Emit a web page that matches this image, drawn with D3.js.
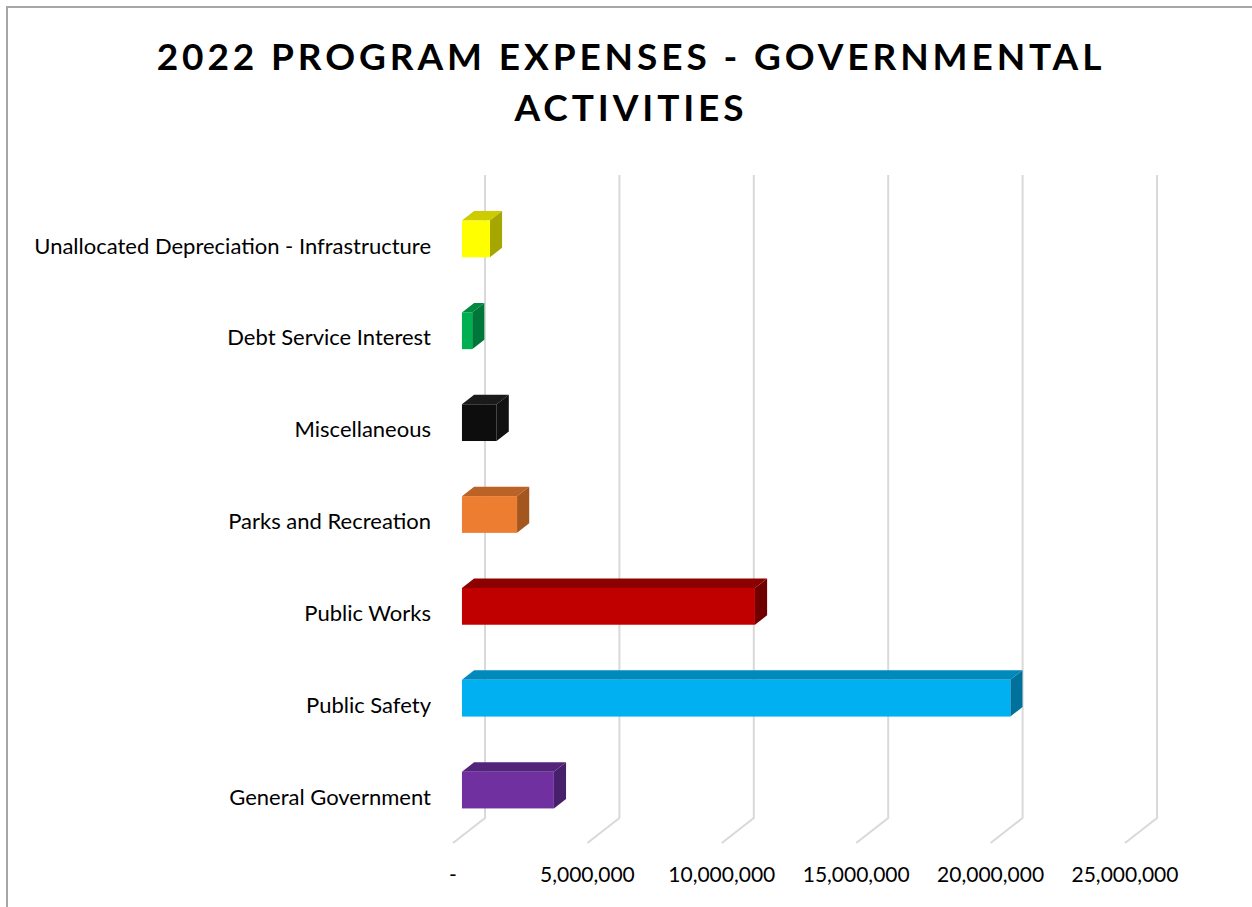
<!DOCTYPE html>
<html>
<head>
<meta charset="utf-8">
<script src="https://cdn.jsdelivr.net/npm/d3@7"></script>
<style>
  body { margin: 0; background: #fff; }
  text { font-family: Lato, "Open Sans", sans-serif; }
</style>
</head>
<body>
<div id="chart"></div>
<script>
// chart data
const categories = [
    "Unallocated Depreciation - Infrastructure",
    "Debt Service Interest",
    "Miscellaneous",
    "Parks and Recreation",
    "Public Works",
    "Public Safety",
    "General Government"
];
const expenses = [1040000, 380000, 1290000, 2050000, 10900000, 20400000, 3420000];
const tickValues = [0, 5000000, 10000000, 15000000, 20000000, 25000000];
const tickLabels = ["-", "5,000,000", "10,000,000", "15,000,000", "20,000,000", "25,000,000"];

// front / top / side colours for each bar
const frontColors = ["#ffff00", "#00b050", "#0d0d0d", "#ed7d31", "#c00000", "#00b0f0", "#7030a0"];
const topColors   = ["#cccc00", "#008a3e", "#1a1a1a", "#bb6226", "#8c0000", "#0089bb", "#53257a"];
const sideColors  = ["#a6a600", "#00773a", "#111111", "#a4561f", "#700000", "#00719b", "#46206a"];

const width = 1252;
const height = 907;

// 3d depth of the plot box
const depth = {dx: 32, dy: -25};
const barZ0 = 0.28, barZ1 = 0.66;

const svg = d3.select("#chart").append("svg")
    .attr("width", width)
    .attr("height", height);

// outer border
svg.append("rect")
    .attr("x", 7).attr("y", 7)
    .attr("width", width).attr("height", height)
    .attr("fill", "none")
    .attr("stroke", "#a6a6a6")
    .attr("stroke-width", 2);

// title
const title = svg.append("text")
    .attr("text-anchor", "middle")
    .attr("font-size", 37)
    .attr("font-weight", "bold")
    .style("letter-spacing", "3.9px")
    .attr("fill", "#000");
title.append("tspan").attr("x", 631).attr("y", 70).text("2022 PROGRAM EXPENSES - GOVERNMENTAL");
title.append("tspan").attr("x", 631).attr("y", 121).text("ACTIVITIES");

// scales (front plane of the box)
const x = d3.scaleLinear()
    .domain([0, 25000000])
    .range([453, 1125]);

const y = d3.scaleBand()
    .domain(categories)
    .range([200, 843])
    .paddingInner(0.6)
    .paddingOuter(0.3);

// projection of a point at depth z (0 front, 1 back)
const px = (xv, z) => xv + depth.dx * z;
const py = (yv, z) => yv + depth.dy * z;

// back wall gridlines + floor diagonals
const grid = svg.append("g");
grid.selectAll("path")
    .data(tickValues)
    .join("path")
        .attr("d", d => {
            const xf = x(d);
            return `M${px(xf, 1)},${py(200, 1)} L${px(xf, 1)},${py(843, 1)} L${xf},843`;
        })
        .attr("fill", "none")
        .attr("stroke", "#d9d9d9")
        .attr("stroke-width", 2);

// tick labels
svg.append("g").selectAll("text")
    .data(tickValues)
    .join("text")
        .attr("x", d => x(d))
        .attr("y", 882)
        .attr("text-anchor", "middle")
        .attr("font-size", 21)
        .attr("fill", "#000")
        .text((d, i) => tickLabels[i]);

// category labels
svg.append("g").selectAll("text")
    .data(categories)
    .join("text")
        .attr("x", 431)
        .attr("y", d => y(d) + y.bandwidth() / 2)
        .attr("dy", "0.35em")
        .attr("text-anchor", "end")
        .attr("font-size", 22)
        .attr("fill", "#000")
        .text(d => d);

// 3d bars
const bars = svg.append("g").selectAll("g")
    .data(categories.map((c, i) => ({cat: c, value: expenses[i], i: i})))
    .join("g");

function facePath(pts) {
    return "M" + pts.map(p => p.join(",")).join("L") + "Z";
}

bars.append("path") // top
    .attr("d", d => {
        const x0 = x(0), x1 = x(d.value), yt = y(d.cat);
        return facePath([
            [px(x0, barZ0), py(yt, barZ0)], [px(x1, barZ0), py(yt, barZ0)],
            [px(x1, barZ1), py(yt, barZ1)], [px(x0, barZ1), py(yt, barZ1)]
        ]);
    })
    .attr("fill", d => topColors[d.i]);

bars.append("path") // side
    .attr("d", d => {
        const x1 = x(d.value), yt = y(d.cat), yb = y(d.cat) + y.bandwidth();
        return facePath([
            [px(x1, barZ0), py(yt, barZ0)], [px(x1, barZ1), py(yt, barZ1)],
            [px(x1, barZ1), py(yb, barZ1)], [px(x1, barZ0), py(yb, barZ0)]
        ]);
    })
    .attr("fill", d => sideColors[d.i]);

bars.append("rect") // front
    .attr("x", px(x(0), barZ0))
    .attr("y", d => py(y(d.cat), barZ0))
    .attr("width", d => x(d.value) - x(0))
    .attr("height", y.bandwidth())
    .attr("fill", d => frontColors[d.i]);
</script>
</body>
</html>
